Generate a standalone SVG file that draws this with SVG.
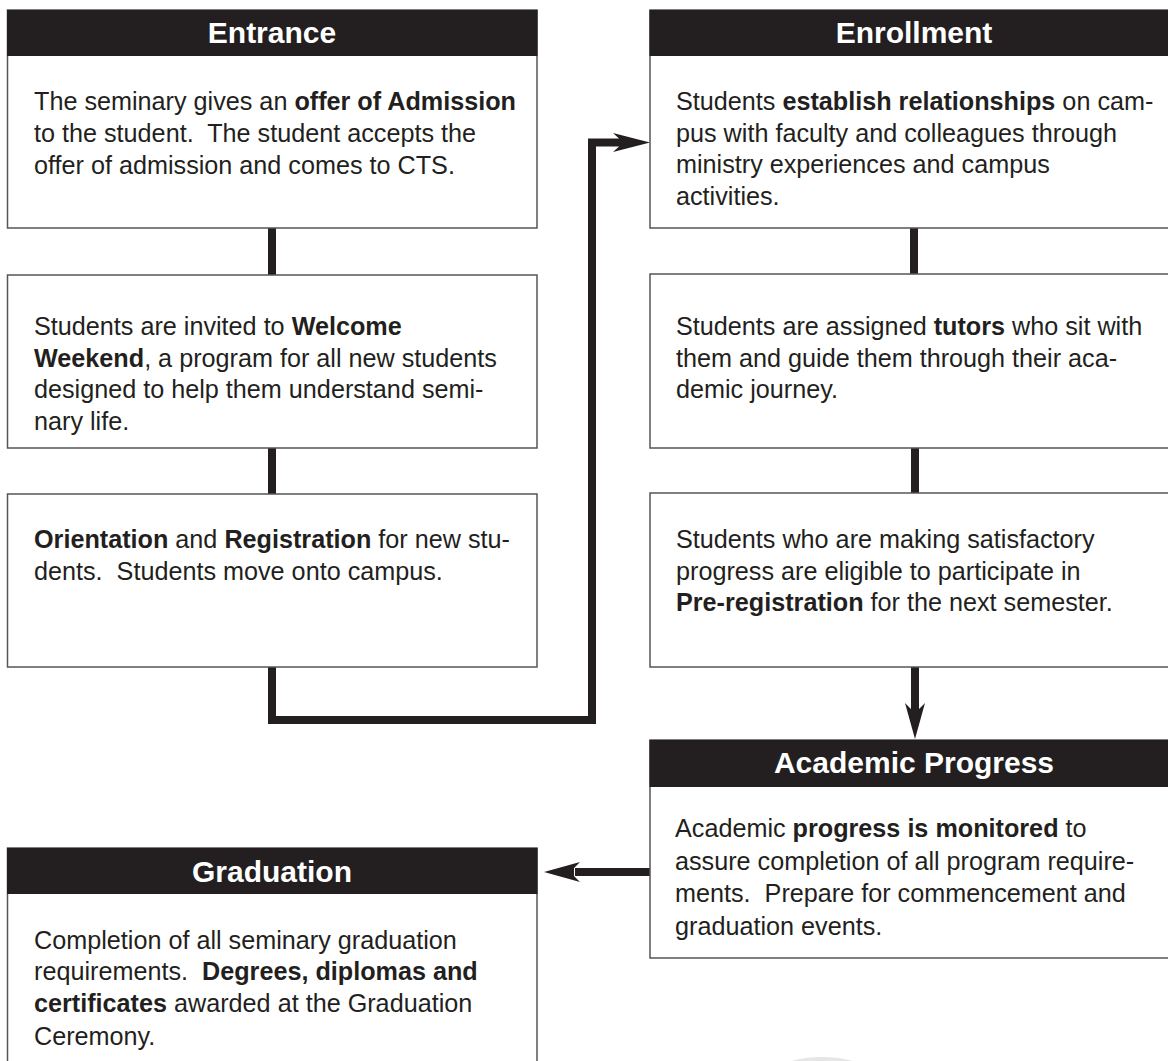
<svg xmlns="http://www.w3.org/2000/svg" width="1168" height="1061" viewBox="0 0 1168 1061">
<style>
.box{fill:#fff;stroke:#555;stroke-width:1.5}
.hdr{fill:#231f20}
.ht{font-family:"Liberation Sans",Arial,Helvetica,sans-serif;font-size:30px;font-weight:bold;fill:#fff;text-anchor:middle}
.bt{font-family:"Liberation Sans",Arial,Helvetica,sans-serif;font-size:25.2px;fill:#231f20;white-space:pre}
.b{font-weight:bold}
.con{fill:none;stroke:#231f20;stroke-width:8;stroke-linejoin:miter;stroke-linecap:butt}
.ah{fill:#231f20}
</style>
<rect width="1168" height="1061" fill="#fff"/>
<g id="connectors">
<path class="con" d="M272,228 V275"/>
<path class="con" d="M272,448 V494"/>
<path class="con" d="M272,667 V720 H592 V142.5 H620"/>
<polygon class="ah" points="650,142.5 613,133 619,138.5 619,146.5 613,152"/>
<path class="con" d="M914,228 V274"/>
<path class="con" d="M915,448 V493"/>
<path class="con" d="M915,667 V710"/>
<polygon class="ah" points="915,739 905,703 911,709 919,709 925,703"/>
<path class="con" d="M650,872 H575"/>
<polygon class="ah" points="544,872 580,862 574,868 574,876 580,882"/>
</g>
<g id="entrance">
<rect class="box" x="7.5" y="10" width="529.5" height="218"/>
<rect class="hdr" x="7" y="10" width="530.5" height="46"/>
<text class="ht" x="272" y="43">Entrance</text>
<text class="bt" x="34" y="110">The seminary gives an <tspan class="b">offer of Admission</tspan></text>
<text class="bt" x="34" y="142">to the student.  The student accepts the</text>
<text class="bt" x="34" y="174">offer of admission and comes to CTS.</text>
</g>
<g id="welcome">
<rect class="box" x="7.5" y="275" width="529.5" height="173"/>
<text class="bt" x="34" y="335">Students are invited to <tspan class="b">Welcome</tspan></text>
<text class="bt" x="34" y="367"><tspan class="b">Weekend</tspan>, a program for all new students</text>
<text class="bt" x="34" y="398">designed to help them understand semi-</text>
<text class="bt" x="34" y="430">nary life.</text>
</g>
<g id="orientation">
<rect class="box" x="7.5" y="494" width="529.5" height="173"/>
<text class="bt" x="34" y="548"><tspan class="b">Orientation</tspan> and <tspan class="b">Registration</tspan> for new stu-</text>
<text class="bt" x="34" y="580">dents.  Students move onto campus.</text>
</g>
<g id="enrollment">
<rect class="box" x="650" y="10" width="530" height="218"/>
<rect class="hdr" x="649.5" y="10" width="531" height="46"/>
<text class="ht" x="914" y="43">Enrollment</text>
<text class="bt" x="676" y="110">Students <tspan class="b">establish relationships</tspan> on cam-</text>
<text class="bt" x="676" y="141.5">pus with faculty and colleagues through</text>
<text class="bt" x="676" y="173">ministry experiences and campus</text>
<text class="bt" x="676" y="204.5">activities.</text>
</g>
<g id="tutors">
<rect class="box" x="650" y="274" width="530" height="174"/>
<text class="bt" x="676" y="335">Students are assigned <tspan class="b">tutors</tspan> who sit with</text>
<text class="bt" x="676" y="367">them and guide them through their aca-</text>
<text class="bt" x="676" y="398">demic journey.</text>
</g>
<g id="preregistration">
<rect class="box" x="650" y="493" width="530" height="174"/>
<text class="bt" x="676" y="548">Students who are making satisfactory</text>
<text class="bt" x="676" y="580">progress are eligible to participate in</text>
<text class="bt" x="676" y="611"><tspan class="b">Pre-registration</tspan> for the next semester.</text>
</g>
<g id="academic-progress">
<rect class="box" x="650" y="740" width="530" height="218"/>
<rect class="hdr" x="649.5" y="740" width="531" height="47"/>
<text class="ht" x="914" y="773">Academic Progress</text>
<text class="bt" x="675" y="837">Academic <tspan class="b">progress is monitored</tspan> to</text>
<text class="bt" x="675" y="869.5">assure completion of all program require-</text>
<text class="bt" x="675" y="902">ments.  Prepare for commencement and</text>
<text class="bt" x="675" y="934.5">graduation events.</text>
</g>
<g id="graduation">
<rect class="box" x="7.5" y="848" width="529.5" height="240"/>
<rect class="hdr" x="7" y="848" width="530.5" height="46"/>
<text class="ht" x="272" y="882">Graduation</text>
<text class="bt" x="34" y="949">Completion of all seminary graduation</text>
<text class="bt" x="34" y="980">requirements.  <tspan class="b">Degrees, diplomas and</tspan></text>
<text class="bt" x="34" y="1012"><tspan class="b">certificates</tspan> awarded at the Graduation</text>
<text class="bt" x="34" y="1045">Ceremony.</text>
</g>
<ellipse cx="822" cy="1067" rx="38" ry="10" fill="#e6e6e6"/>
</svg>
